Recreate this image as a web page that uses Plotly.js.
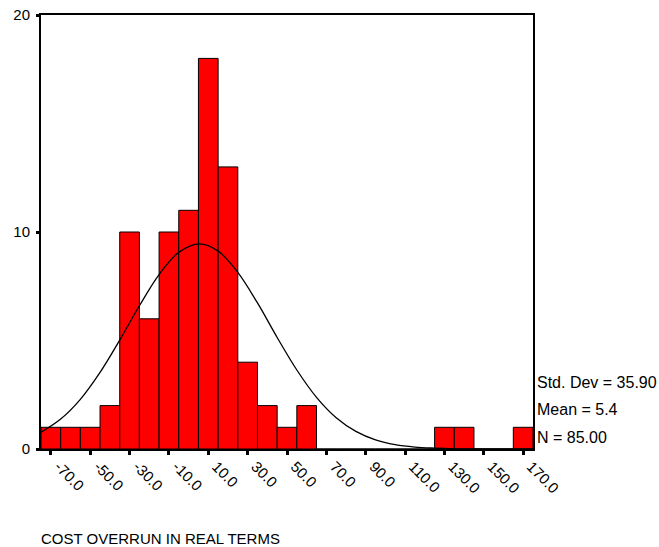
<!DOCTYPE html>
<html>
<head>
<meta charset="utf-8">
<script src="https://cdn.plot.ly/plotly-3.0.1.min.js"></script>
<style>html,body{margin:0;padding:0;background:#fff;}#chart{width:659px;height:547px;}</style>
</head>
<body>
<div id="chart"></div>
<script>
// Histogram bin midpoints (bin width 10)
const binMids = [-70,-60,-50,-40,-30,-20,-10,0,10,20,30,40,50,60,70,80,90,100,110,120,130,140,150,160,170];
const counts  = [1,1,1,2,10,6,10,11,18,13,4,2,1,2,0,0,0,0,0,0,1,1,0,0,1];

// Fitted normal curve
const curveX = [-75,-65,-55,-45,-35,-25,-15,-5,5.4,15,25,35,45,55,65,75,85,95,105,115,125,135,145,155,165,175];
const curveY = [0.77,1.38,2.29,3.53,5.02,6.60,8.04,9.06,9.45,9.12,8.14,6.73,5.14,3.64,2.38,1.44,0.81,0.42,0.20,0.09,0.04,0.01,0,0,0,0];

const xTickVals = [-70,-50,-30,-10,10,30,50,70,90,110,130,150,170];
const xTickText = ["-70.0","-50.0","-30.0","-10.0","10.0","30.0","50.0","70.0","90.0","110.0","130.0","150.0","170.0"];
const yTickVals = [0,10,20];

const statsLines = ["Std. Dev = 35.90","Mean = 5.4","N = 85.00"];
const xTitle = "COST OVERRUN IN REAL TERMS";

const font = "Arial, 'Liberation Sans', sans-serif";

const traces = [
  {
    type: "bar",
    x: binMids,
    y: counts,
    width: 10,
    marker: {color: "#FF0000", line: {color: "#000", width: 1}},
    hoverinfo: "x+y",
    showlegend: false
  },
  {
    type: "scatter",
    mode: "lines",
    x: curveX,
    y: curveY,
    line: {color: "#000", width: 1.3, shape: "spline"},
    showlegend: false
  }
];

const statY = [0.154, 0.0899, 0.0276];
const annotations = statsLines.map((t,i)=>({
  text: t, xref: "paper", yref: "paper", x: 1.005, y: statY[i],
  xanchor: "left", yanchor: "middle", showarrow: false,
  font: {family: font, size: 16, color: "#000"}
}));
annotations.push({
  text: xTitle, xref: "paper", yref: "paper", x: -0.004, y: -0.207,
  xanchor: "left", yanchor: "middle", showarrow: false,
  font: {family: font, size: 15, color: "#000"}
});

const layout = {
  width: 659, height: 547,
  margin: {l: 41, r: 126, t: 15, b: 98, pad: 0},
  paper_bgcolor: "#fff", plot_bgcolor: "#fff",
  bargap: 0,
  font: {family: font, size: 15, color: "#000"},
  xaxis: {
    range: [-75, 175],
    tickmode: "array", tickvals: xTickVals, ticktext: xTickText,
    tickangle: 45,
    ticks: "outside", ticklen: 4, tickwidth: 3, tickcolor: "#000",
    ticklabelshift: 8, ticklabelstandoff: -3,
    showline: true, linecolor: "#000", linewidth: 2, mirror: true,
    showgrid: false, zeroline: false,
    tickfont: {family: font, size: 15, color: "#000"}
  },
  yaxis: {
    range: [0, 20],
    tickmode: "array", tickvals: yTickVals,
    ticks: "outside", ticklen: 3, tickwidth: 3, tickcolor: "#000",
    ticklabelstandoff: 3,
    showline: true, linecolor: "#000", linewidth: 2, mirror: true,
    showgrid: false, zeroline: false,
    tickfont: {family: font, size: 15, color: "#000"}
  },
  annotations: annotations
};

Plotly.newPlot("chart", traces, layout, {displayModeBar: false, staticPlot: true});
</script>
</body>
</html>
